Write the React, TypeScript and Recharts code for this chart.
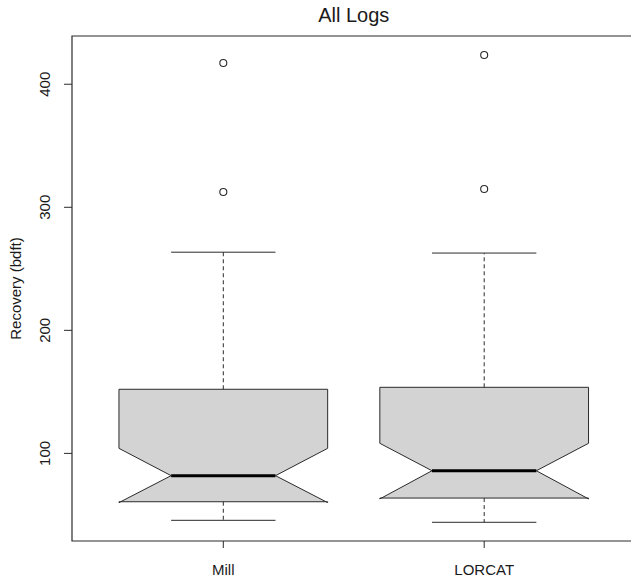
import React from "react";
import { ComposedChart, XAxis, YAxis, Scatter, ReferenceArea } from "recharts";

// Notched boxplot stats (bdft)
const categories = ["Mill", "LORCAT"];
const positions = [1, 2];
const lowerWhisker = [45.6, 44.0];
const lowerHinge = [60.7, 63.7];
const notchLow = [60.0, 63.0];
const medians = [81.9, 85.9];
const notchHigh = [104.1, 108.2];
const upperHinge = [152.1, 153.7];
const upperWhisker = [263.5, 262.8];
const outliers = [
  [312.4, 417.2],
  [314.9, 423.8],
];
const yTicks = [100, 200, 300, 400];
const yDomain = [28.8, 439.2];
const xDomain = [0.42, 2.58];

const BOX_HALF = 0.4;
const NOTCH_HALF = 0.2;
const STAPLE_HALF = 0.2;

const colors = {
  ink: "#2a2a2a",
  box: "#d3d3d3",
  median: "#000000",
  text: "#1a1a1a",
};

const FONT = '"Liberation Sans", Arial, Helvetica, sans-serif';

const EmptyShape = () => <g />;

const OutlierShape = (props: any) => (
  <circle cx={props.cx} cy={props.cy} r={3.5} fill="none" stroke={colors.ink} strokeWidth={1.1} />
);

function boxOutline(i: number) {
  const c = positions[i];
  return [
    { x: c - BOX_HALF, y: lowerHinge[i] },
    { x: c - BOX_HALF, y: notchLow[i] },
    { x: c - NOTCH_HALF, y: medians[i] },
    { x: c - BOX_HALF, y: notchHigh[i] },
    { x: c - BOX_HALF, y: upperHinge[i] },
    { x: c + BOX_HALF, y: upperHinge[i] },
    { x: c + BOX_HALF, y: notchHigh[i] },
    { x: c + NOTCH_HALF, y: medians[i] },
    { x: c + BOX_HALF, y: notchLow[i] },
    { x: c + BOX_HALF, y: lowerHinge[i] },
    { x: c - BOX_HALF, y: lowerHinge[i] },
  ];
}

function YTick(props: any) {
  const { x, y, payload } = props;
  return (
    <text
      x={x}
      y={y}
      transform={`rotate(-90, ${x}, ${y})`}
      textAnchor="middle"
      fontSize={15}
      fill={colors.text}
    >
      {payload.value}
    </text>
  );
}

function YLabel(props: any) {
  const vb = props.viewBox ?? { x: 12, y: 36, width: 60, height: 505 };
  const x = vb.x + 9;
  const y = vb.y + vb.height / 2;
  return (
    <text x={x} y={y} transform={`rotate(-90, ${x}, ${y})`} textAnchor="middle" fontSize={15} fill={colors.text}>
      Recovery (bdft)
    </text>
  );
}

export default function App() {
  return (
    <div
      style={{
        position: "absolute",
        left: 0,
        top: 0,
        width: 631,
        height: 582,
        overflow: "hidden",
        background: "#fff",
        fontFamily: FONT,
      }}
    >
      <div
        style={{
          position: "absolute",
          left: 72,
          width: 563.5,
          top: 4,
          textAlign: "center",
          fontSize: 20,
          lineHeight: "23px",
          color: colors.text,
        }}
      >
        All Logs
      </div>
      <ComposedChart width={640} height={582} margin={{ top: 36, right: 4.5, bottom: 0, left: 12 }}>
        <XAxis
          type="number"
          dataKey="x"
          scale="linear"
          domain={xDomain}
          allowDataOverflow
          ticks={positions}
          tickFormatter={(v: number) => categories[positions.indexOf(v)] ?? ""}
          height={41}
          tickSize={7}
          tickMargin={16}
          axisLine={false}
          tickLine={{ stroke: colors.ink }}
          tick={{ fill: colors.text, fontSize: 15 }}
        />
        <YAxis
          type="number"
          dataKey="y"
          scale="linear"
          domain={yDomain}
          allowDataOverflow
          ticks={yTicks}
          width={60}
          tickSize={8}
          tickMargin={14}
          axisLine={false}
          tickLine={{ stroke: colors.ink }}
          tick={<YTick />}
          label={{ content: <YLabel /> }}
        />
        {positions.map((c, i) => (
          <Scatter
            key={`box-${i}`}
            data={boxOutline(i)}
            shape={EmptyShape}
            line={{ stroke: colors.ink, strokeWidth: 1, fill: colors.box }}
            isAnimationActive={false}
          />
        ))}
        {positions.map((c, i) => (
          <Scatter
            key={`med-${i}`}
            data={[
              { x: c - NOTCH_HALF, y: medians[i] },
              { x: c + NOTCH_HALF, y: medians[i] },
            ]}
            shape={EmptyShape}
            line={{ stroke: colors.median, strokeWidth: 3 }}
            isAnimationActive={false}
          />
        ))}
        {positions.map((c, i) => (
          <Scatter
            key={`uw-${i}`}
            data={[
              { x: c, y: upperHinge[i] },
              { x: c, y: upperWhisker[i] },
            ]}
            shape={EmptyShape}
            line={{ stroke: colors.ink, strokeWidth: 1, strokeDasharray: "4 3" }}
            isAnimationActive={false}
          />
        ))}
        {positions.map((c, i) => (
          <Scatter
            key={`lw-${i}`}
            data={[
              { x: c, y: lowerHinge[i] },
              { x: c, y: lowerWhisker[i] },
            ]}
            shape={EmptyShape}
            line={{ stroke: colors.ink, strokeWidth: 1, strokeDasharray: "4 3" }}
            isAnimationActive={false}
          />
        ))}
        {positions.map((c, i) => (
          <Scatter
            key={`ucap-${i}`}
            data={[
              { x: c - STAPLE_HALF, y: upperWhisker[i] },
              { x: c + STAPLE_HALF, y: upperWhisker[i] },
            ]}
            shape={EmptyShape}
            line={{ stroke: colors.ink, strokeWidth: 1 }}
            isAnimationActive={false}
          />
        ))}
        {positions.map((c, i) => (
          <Scatter
            key={`lcap-${i}`}
            data={[
              { x: c - STAPLE_HALF, y: lowerWhisker[i] },
              { x: c + STAPLE_HALF, y: lowerWhisker[i] },
            ]}
            shape={EmptyShape}
            line={{ stroke: colors.ink, strokeWidth: 1 }}
            isAnimationActive={false}
          />
        ))}
        {positions.map((c, i) => (
          <Scatter
            key={`out-${i}`}
            data={outliers[i].map((v) => ({ x: c, y: v }))}
            shape={OutlierShape}
            isAnimationActive={false}
          />
        ))}
        <ReferenceArea
          x1={xDomain[0]}
          x2={xDomain[1]}
          y1={yDomain[0]}
          y2={yDomain[1]}
          fill="none"
          fillOpacity={0}
          stroke={colors.ink}
          strokeWidth={1.2}
          ifOverflow="visible"
        />
      </ComposedChart>
    </div>
  );
}
